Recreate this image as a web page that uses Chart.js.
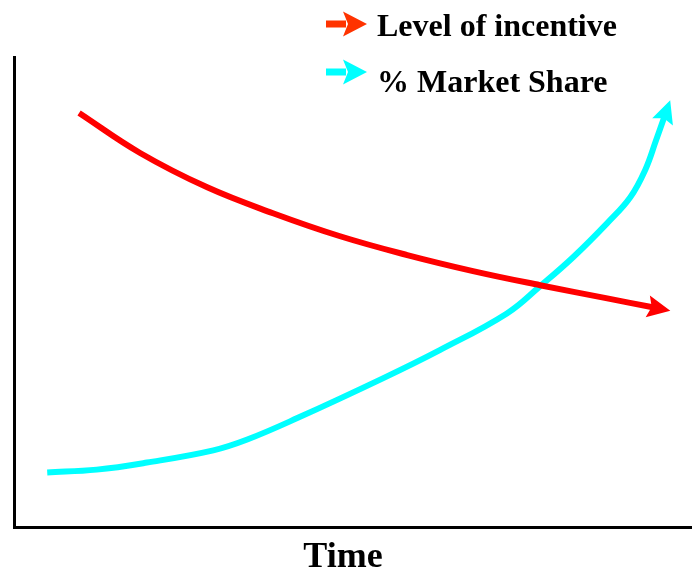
<!DOCTYPE html>
<html>
<head>
<meta charset="utf-8">
<script src="https://cdn.jsdelivr.net/npm/chart.js@4/dist/chart.umd.min.js"></script>
<style>
  body { margin: 0; background: #fff; }
  #wrap { width: 692px; height: 571px; position: relative; }
</style>
</head>
<body>
<div id="wrap"><canvas id="chart"></canvas></div>
<script>
// values (x = time, y = level, both 0-100)
const incentiveX = [9.6, 18.6, 28.5, 38.2, 48.1, 58.0, 67.7, 77.6, 87.5, 94.2];
const incentiveY = [88.1, 79.6, 72.3, 66.8, 61.9, 57.9, 54.5, 51.5, 48.7, 46.8];
const shareX = [4.9, 12.2, 19.6, 29.4, 34.4, 41.7, 54.4, 62.8, 72.7, 77.6, 82.5, 87.5, 90.9, 93.1, 94.7, 95.9];
const shareY = [11.7, 12.3, 13.8, 16.4, 18.7, 23.2, 31.7, 37.7, 45.5, 51.3, 57.5, 64.7, 70.2, 76.0, 82.3, 87.2];
const seriesNames = ['Level of incentive', '% Market Share'];
const axisTitle = 'Time';

const toPoints = (xs, ys) => xs.map((x, i) => ({ x: x, y: ys[i] }));

// arrow head at the end of each line
const arrowHeads = {
  id: 'arrowHeads',
  afterDatasetsDraw(chart) {
    const ctx = chart.ctx;
    chart.data.datasets.forEach((ds, i) => {
      const pts = chart.getDatasetMeta(i).data;
      const a = pts[pts.length - 2], b = pts[pts.length - 1];
      let dx = b.x - a.x, dy = b.y - a.y;
      const len = Math.hypot(dx, dy);
      dx /= len; dy /= len;
      const nx = -dy, ny = dx;
      const tip = { x: b.x + dx * 18, y: b.y + dy * 18 };
      ctx.save();
      ctx.fillStyle = ds.borderColor;
      ctx.beginPath();
      ctx.moveTo(tip.x, tip.y);
      ctx.lineTo(tip.x - dx * 23 + nx * 11, tip.y - dy * 23 + ny * 11);
      ctx.lineTo(b.x - dx * 1, b.y - dy * 1);
      ctx.lineTo(tip.x - dx * 23 - nx * 11, tip.y - dy * 23 - ny * 11);
      ctx.closePath();
      ctx.fill();
      ctx.restore();
    });
  }
};

// legend with arrow symbols in the top right, and the axis title
const arrowLegend = {
  id: 'arrowLegend',
  afterDraw(chart) {
    const ctx = chart.ctx;
    const colors = ['#ff3300', '#00ffff'];
    const arrowY = [24, 72];
    const textY = [36, 92];
    ctx.save();
    arrowY.forEach((cy, i) => {
      ctx.fillStyle = colors[i];
      ctx.fillRect(326, cy - 3.5, 20, 7);
      ctx.beginPath();
      ctx.moveTo(367, cy);
      ctx.lineTo(343, cy - 12.5);
      ctx.lineTo(348, cy);
      ctx.lineTo(343, cy + 12.5);
      ctx.closePath();
      ctx.fill();
      ctx.fillStyle = '#000';
      ctx.font = 'bold 32px "Liberation Serif"';
      ctx.textBaseline = 'alphabetic';
      ctx.fillText(seriesNames[i], 377, textY[i]);
    });
    ctx.font = 'bold 36px "Liberation Serif"';
    ctx.textAlign = 'center';
    ctx.fillText(axisTitle, 343, 567);
    ctx.restore();
  }
};

new Chart(document.getElementById('chart'), {
  type: 'line',
  data: {
    datasets: [
      {
        label: seriesNames[0],
        data: toPoints(incentiveX, incentiveY),
        borderColor: '#ff0000',
        borderWidth: 6,
        pointRadius: 0,
        tension: 0.4,
        fill: false
      },
      {
        label: seriesNames[1],
        data: toPoints(shareX, shareY),
        borderColor: '#00ffff',
        borderWidth: 6,
        pointRadius: 0,
        tension: 0.4,
        fill: false
      }
    ]
  },
  options: {
    responsive: true,
    maintainAspectRatio: false,
    animation: false,
    layout: { padding: { left: 14, right: 0, top: 57, bottom: 43.5 } },
    scales: {
      x: {
        type: 'linear', min: 0, max: 100,
        grid: { display: false, drawTicks: false },
        ticks: { display: false },
        border: { display: true, color: '#000', width: 3 }
      },
      y: {
        min: 0, max: 100,
        grid: { display: false, drawTicks: false },
        ticks: { display: false },
        border: { display: true, color: '#000', width: 3 }
      }
    },
    plugins: {
      legend: { display: false },
      tooltip: { enabled: false }
    }
  },
  plugins: [arrowHeads, arrowLegend]
});
</script>
</body>
</html>
